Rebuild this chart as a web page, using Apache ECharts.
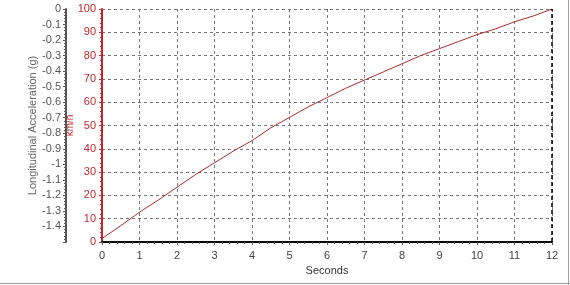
<!DOCTYPE html>
<html><head><meta charset="utf-8">
<script src="https://cdn.jsdelivr.net/npm/echarts@6/dist/echarts.min.js"></script>
<style>html,body{margin:0;padding:0;background:#fff}#c{width:570px;height:285px}</style>
</head><body><div id="c"></div>
<script>
const seconds = [0,0.5,1,1.5,2,2.5,3,3.5,4,4.5,5,5.5,6,6.5,7,7.5,8,8.5,9,9.5,10,10.5,11,11.5,12];
const speedKmh = [1.5,7,12.8,18,23.5,29,34,39,43.5,49,53.5,58,62,66,69.5,73,76.5,80,83,86,89,91.5,94.5,97,100];
const xTicks = {min:0, max:12, interval:1};
const speedTicks = {min:0, max:100, interval:10};
const accelTicks = {min:-1.5, max:0, interval:0.1};
const xName = 'Seconds';
const speedName = 'km/h';
const accelName = 'Longitudinal Acceleration (g)';

const font = 'Liberation Sans, Arial, sans-serif';
const chart = echarts.init(document.getElementById('c'));
chart.setOption({
  animation:false,
  backgroundColor:'#fff',
  grid:{left:102,right:18,top:9,bottom:43,containLabel:false,outerBoundsMode:'none'},
  graphic:[
    {type:'line',shape:{x1:0,y1:283.5,x2:570,y2:283.5},style:{stroke:'#a0a0a0',lineWidth:1}},
    {type:'line',shape:{x1:568.5,y1:0,x2:568.5,y2:285},style:{stroke:'#a0a0a0',lineWidth:1}}
  ],
  xAxis:{type:'value',min:xTicks.min,max:xTicks.max,interval:xTicks.interval,
    name:xName,nameLocation:'middle',nameGap:23,nameMoveOverlap:false,
    nameTextStyle:{color:'#333',fontFamily:font,fontSize:11},
    axisLine:{lineStyle:{color:'#000',width:2}},
    axisTick:{show:true,length:3,lineStyle:{color:'#555'}},
    minorTick:{show:true,splitNumber:5,length:2,lineStyle:{color:'#555'}},
    axisLabel:{color:'#444',fontFamily:font,fontSize:11,margin:8},
    splitLine:{show:true,lineStyle:{color:'#777',type:[3,3],width:1}}
  },
  yAxis:[
    {type:'value',position:'left',min:speedTicks.min,max:speedTicks.max,interval:speedTicks.interval,
      name:speedName,nameLocation:'middle',nameGap:27,nameMoveOverlap:false,
      nameTextStyle:{color:'#c0282d',fontFamily:font,fontSize:10},
      axisLine:{show:true,lineStyle:{color:'#d02020',width:2}},
      axisTick:{show:true,length:3,lineStyle:{color:'#c0282d'}},
      minorTick:{show:true,splitNumber:5,length:2,lineStyle:{color:'#c0282d'}},
      axisLabel:{color:'#c0282d',fontFamily:font,fontSize:11,margin:6},
      splitLine:{show:true,lineStyle:{color:'#777',type:[3,3],width:1}}
    },
    {type:'value',position:'left',offset:36,min:accelTicks.min,max:accelTicks.max,interval:accelTicks.interval,
      name:accelName,nameLocation:'middle',nameGap:28,nameMoveOverlap:false,
      nameTextStyle:{color:'#666',fontFamily:font,fontSize:11},
      axisLine:{show:true,lineStyle:{color:'#555',width:2}},
      axisTick:{show:true,length:3,lineStyle:{color:'#555'}},
      minorTick:{show:true,splitNumber:5,length:2,lineStyle:{color:'#555'}},
      axisLabel:{color:'#555',fontFamily:font,fontSize:11,margin:5,
        formatter:v=>{const r=Math.round(v*10)/10; if(r<=-1.5) return ''; return r===0?'0':String(r);}},
      splitLine:{show:false}
    }
  ],
  series:[{
    type:'line',xAxisIndex:0,yAxisIndex:0,
    data:seconds.map((s,i)=>[s,speedKmh[i]]),
    showSymbol:false,
    lineStyle:{color:'#b02a2a',width:1},
    markLine:{silent:true,symbol:'none',label:{show:false},
      data:[
        {xAxis:12,lineStyle:{color:'#000',type:[4,3],width:1.5}}
      ]}
  }]
});
</script></body></html>
